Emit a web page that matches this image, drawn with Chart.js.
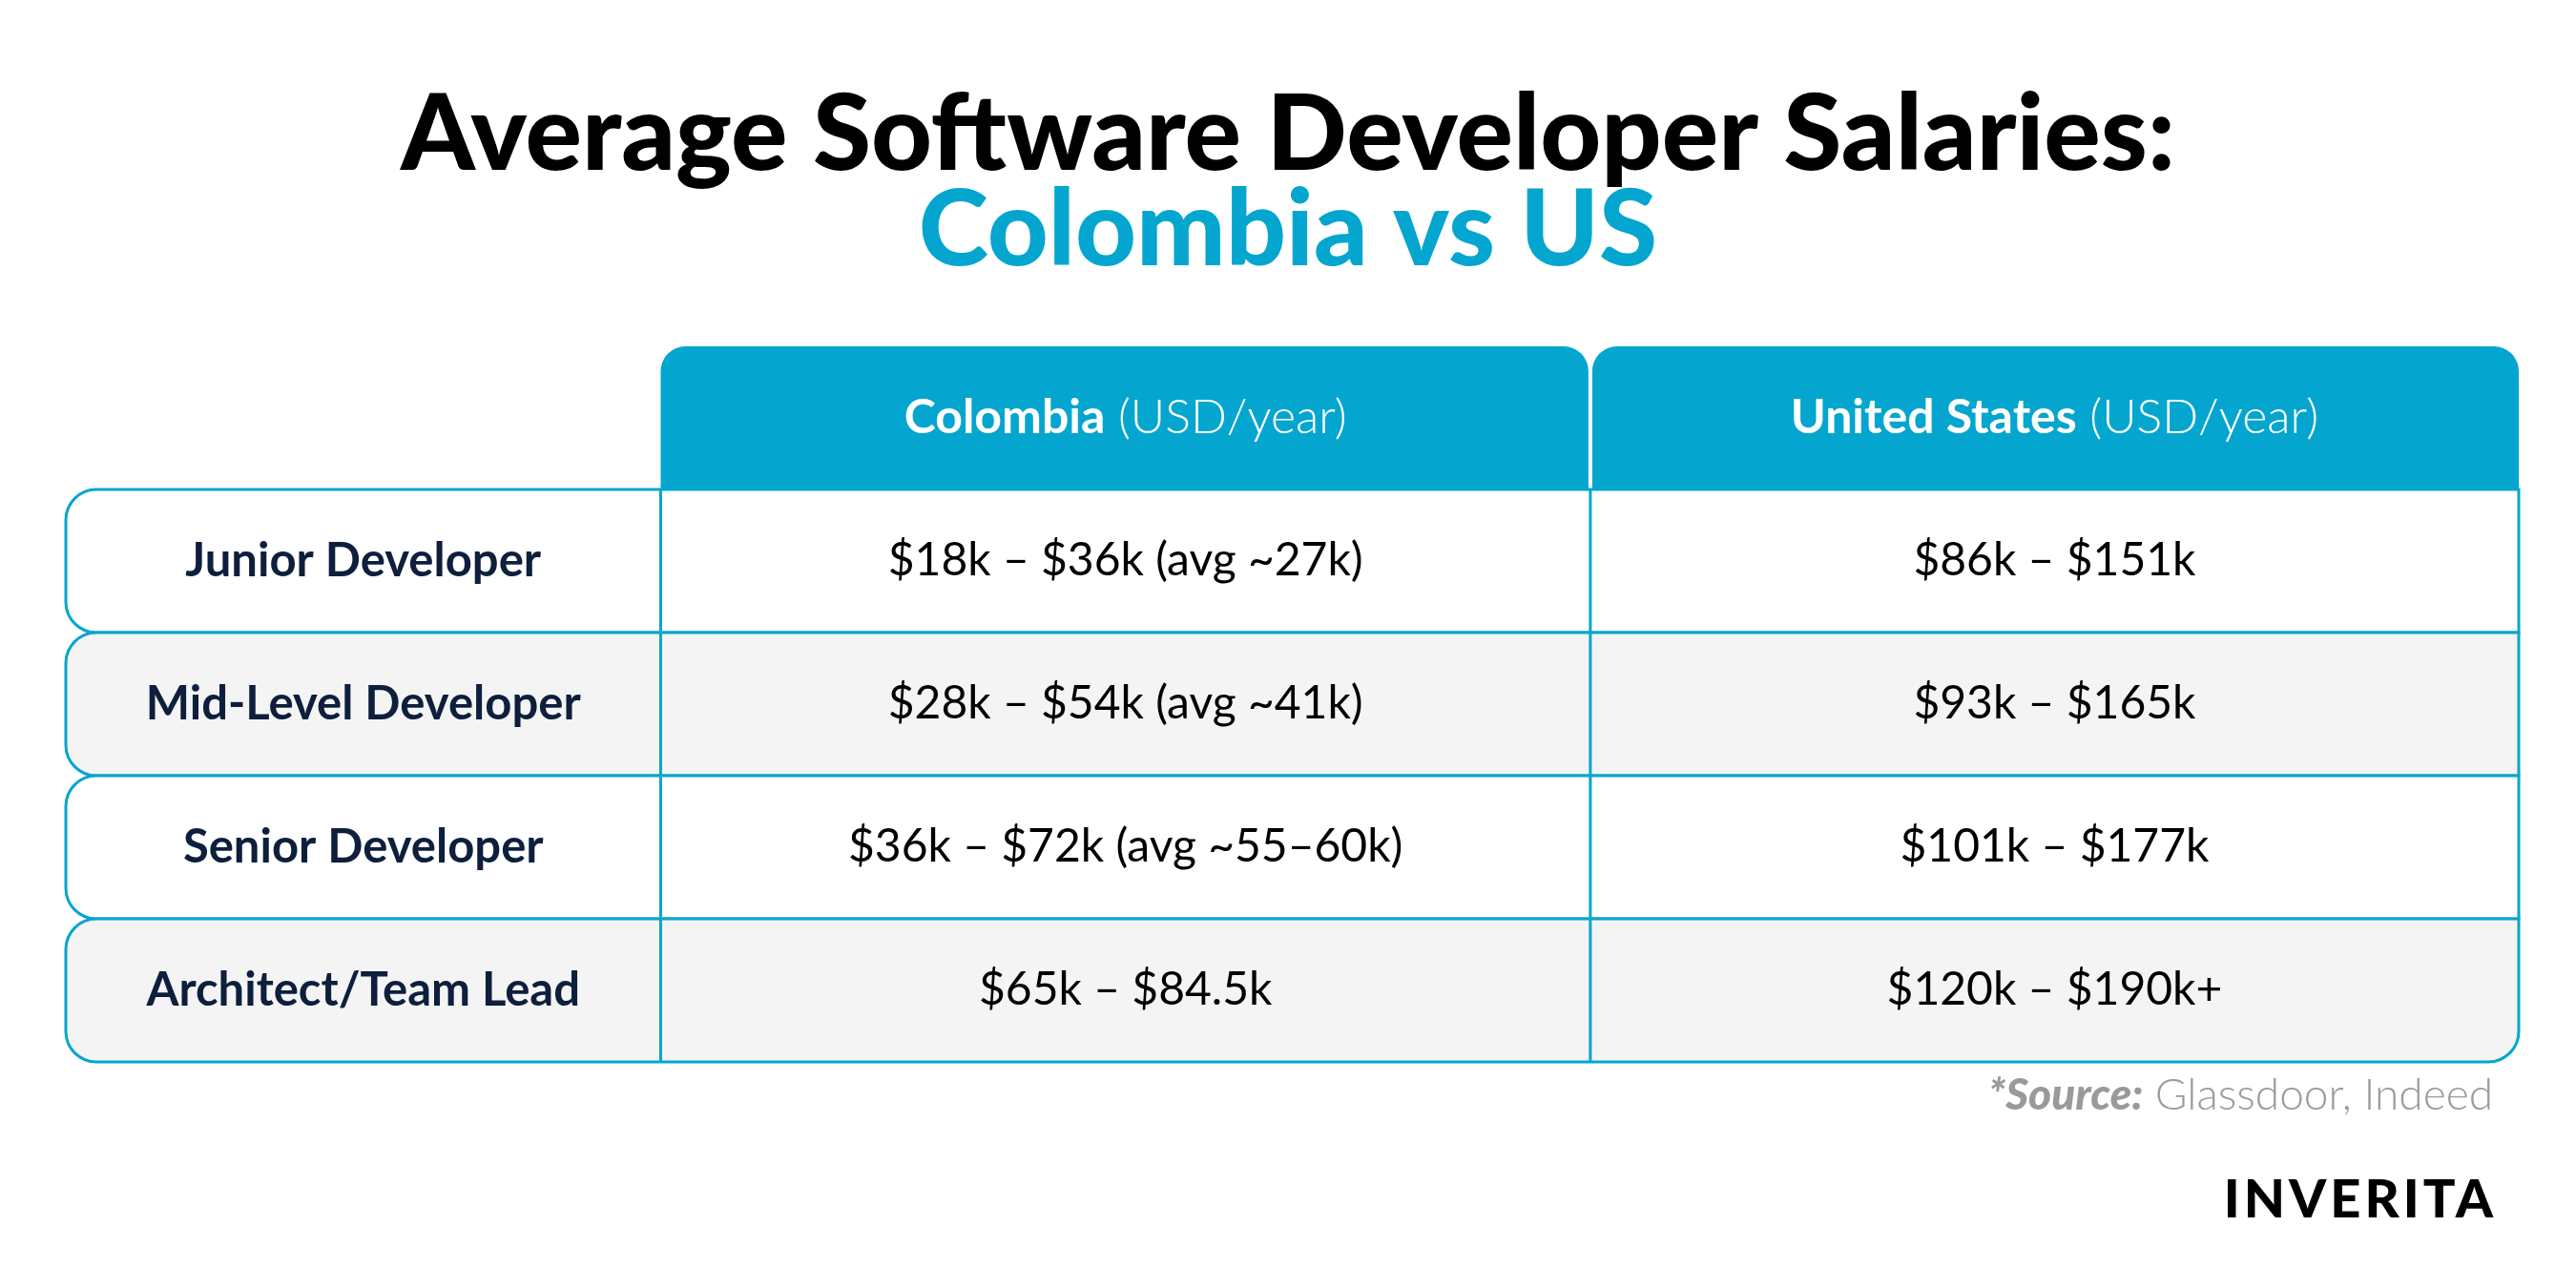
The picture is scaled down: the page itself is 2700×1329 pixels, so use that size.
<!DOCTYPE html>
<html><head><meta charset="utf-8">
<script src="https://cdn.jsdelivr.net/npm/chart.js@4.4.1/dist/chart.umd.min.js"></script>
<style>html,body{margin:0;padding:0;background:#fff}#w{width:2700px;height:1329px}</style>
</head><body><div id="w"><canvas id="c"></canvas></div>
<script>
const titleLine1 = "Average Software Developer Salaries:";
const titleLine2 = "Colombia vs US";
const columns = ["", "Colombia", "United States"];
const columnUnits = ["", " (USD/year)", " (USD/year)"];
const roles = ["Junior Developer", "Mid-Level Developer", "Senior Developer", "Architect/Team Lead"];
const colombia = ["$18k – $36k (avg ~27k)", "$28k – $54k (avg ~41k)", "$36k – $72k (avg ~55–60k)", "$65k – $84.5k"];
const unitedStates = ["$86k – $151k", "$93k – $165k", "$101k – $177k", "$120k – $190k+"];
const sourceBold = "*Source:";
const sourceText = " Glassdoor, Indeed";
const brand = "INVERITA";

const rowLabels = ["header"].concat(roles);
const BLUE = "#04a6cf", NAVY = "#0d1f3c", F = "Lato, 'Open Sans', sans-serif";
const colW = [0.2425, 0.3790, 0.3785];

function rr(ctx, x0, y0, x1, y1, r) { // r = [tl,tr,br,bl]
  ctx.beginPath();
  ctx.moveTo(x0 + r[0], y0);
  ctx.lineTo(x1 - r[1], y0); if (r[1]) ctx.arcTo(x1, y0, x1, y0 + r[1], r[1]);
  ctx.lineTo(x1, y1 - r[2]); if (r[2]) ctx.arcTo(x1, y1, x1 - r[2], y1, r[2]);
  ctx.lineTo(x0 + r[3], y1); if (r[3]) ctx.arcTo(x0, y1, x0, y1 - r[3], r[3]);
  ctx.lineTo(x0, y0 + r[0]); if (r[0]) ctx.arcTo(x0, y0, x0 + r[0], y0, r[0]);
  ctx.closePath();
}

const tablePlugin = {
  id: "table",
  beforeDatasetsDraw(chart) {
    const ctx = chart.ctx, a = chart.chartArea, ys = chart.scales.y;
    const W = a.right - a.left;
    const xe = [a.left]; colW.forEach(w => xe.push(xe[xe.length - 1] + w * W));
    const step = Math.abs(ys.getPixelForValue(1) - ys.getPixelForValue(0));
    const rowB = i => [ys.getPixelForValue(i) - step / 2, ys.getPixelForValue(i) + step / 2];
    ctx.save();
    ctx.textAlign = "center"; ctx.textBaseline = "middle";
    ctx.fillStyle = "#000"; ctx.font = "900 111px " + F;
    ctx.fillText(titleLine1, chart.width / 2, 142);
    ctx.fillStyle = BLUE; ctx.fillText(titleLine2, chart.width / 2, 242);
    const [h0, h1] = rowB(0);
    for (let c = 1; c < 3; c++) {
      ctx.fillStyle = BLUE;
      rr(ctx, xe[c] + (c === 2 ? 2 : 0), h0, xe[c + 1] - (c === 1 ? 2 : 0), h1, [26, 26, 0, 0]); ctx.fill();
      ctx.fillStyle = "#fff";
      const t1 = columns[c], t2 = columnUnits[c];
      ctx.font = "bold 50px " + F; const w1 = ctx.measureText(t1).width;
      ctx.font = "300 50px " + F; const w2 = ctx.measureText(t2).width;
      const cx = (xe[c] + xe[c + 1]) / 2, sx = cx - (w1 + w2) / 2, cy = (h0 + h1) / 2;
      ctx.textAlign = "left";
      ctx.font = "bold 50px " + F; ctx.fillText(t1, sx, cy);
      ctx.font = "300 50px " + F; ctx.fillText(t2, sx + w1, cy);
      ctx.textAlign = "center";
    }
    ctx.lineWidth = 3; ctx.strokeStyle = BLUE;
    roles.forEach((role, i) => {
      const [y0, y1] = rowB(i + 1);
      const last = i === roles.length - 1;
      ctx.fillStyle = i % 2 ? "#f4f4f4" : "#ffffff";
      rr(ctx, a.left, y0, a.right, y1, [32, 0, last ? 32 : 0, 32]); ctx.fill(); ctx.stroke();
      ctx.beginPath(); ctx.moveTo(xe[1], y0); ctx.lineTo(xe[1], y1); ctx.moveTo(xe[2], y0); ctx.lineTo(xe[2], y1); ctx.stroke();
      const cy = (y0 + y1) / 2;
      ctx.fillStyle = NAVY; ctx.font = "bold 49px " + F;
      ctx.fillText(role, (xe[0] + xe[1]) / 2, cy);
      ctx.fillStyle = "#000"; ctx.font = "48px " + F;
      ctx.fillText(colombia[i], (xe[1] + xe[2]) / 2, cy);
      ctx.fillText(unitedStates[i], (xe[2] + xe[3]) / 2, cy);
    });
    ctx.textAlign = "right"; ctx.fillStyle = "#9a9a9a";
    ctx.font = "300 46px " + F; const ws = ctx.measureText(sourceText).width;
    ctx.fillText(sourceText, 2613, 1148);
    ctx.font = "italic 900 46px " + F; ctx.fillText(sourceBold, 2613 - ws, 1148);
    ctx.fillStyle = "#000"; ctx.font = "900 56px " + F; ctx.textAlign = "right";
    ctx.letterSpacing = "4px";
    ctx.fillText(brand, 2617, 1258);
    ctx.restore();
  }
};

new Chart(document.getElementById("c"), {
  type: "bar",
  data: { labels: rowLabels, datasets: [{ data: rowLabels.map(() => null) }] },
  options: {
    responsive: true, maintainAspectRatio: false, animation: false, indexAxis: "y",
    layout: { padding: { left: 69, right: 60, top: 363, bottom: 216 } },
    plugins: { legend: { display: false }, tooltip: { enabled: false } },
    scales: {
      y: { type: "category", offset: true, display: false },
      x: { display: false, min: 0, max: 1 }
    }
  },
  plugins: [tablePlugin]
});
</script></body></html>
